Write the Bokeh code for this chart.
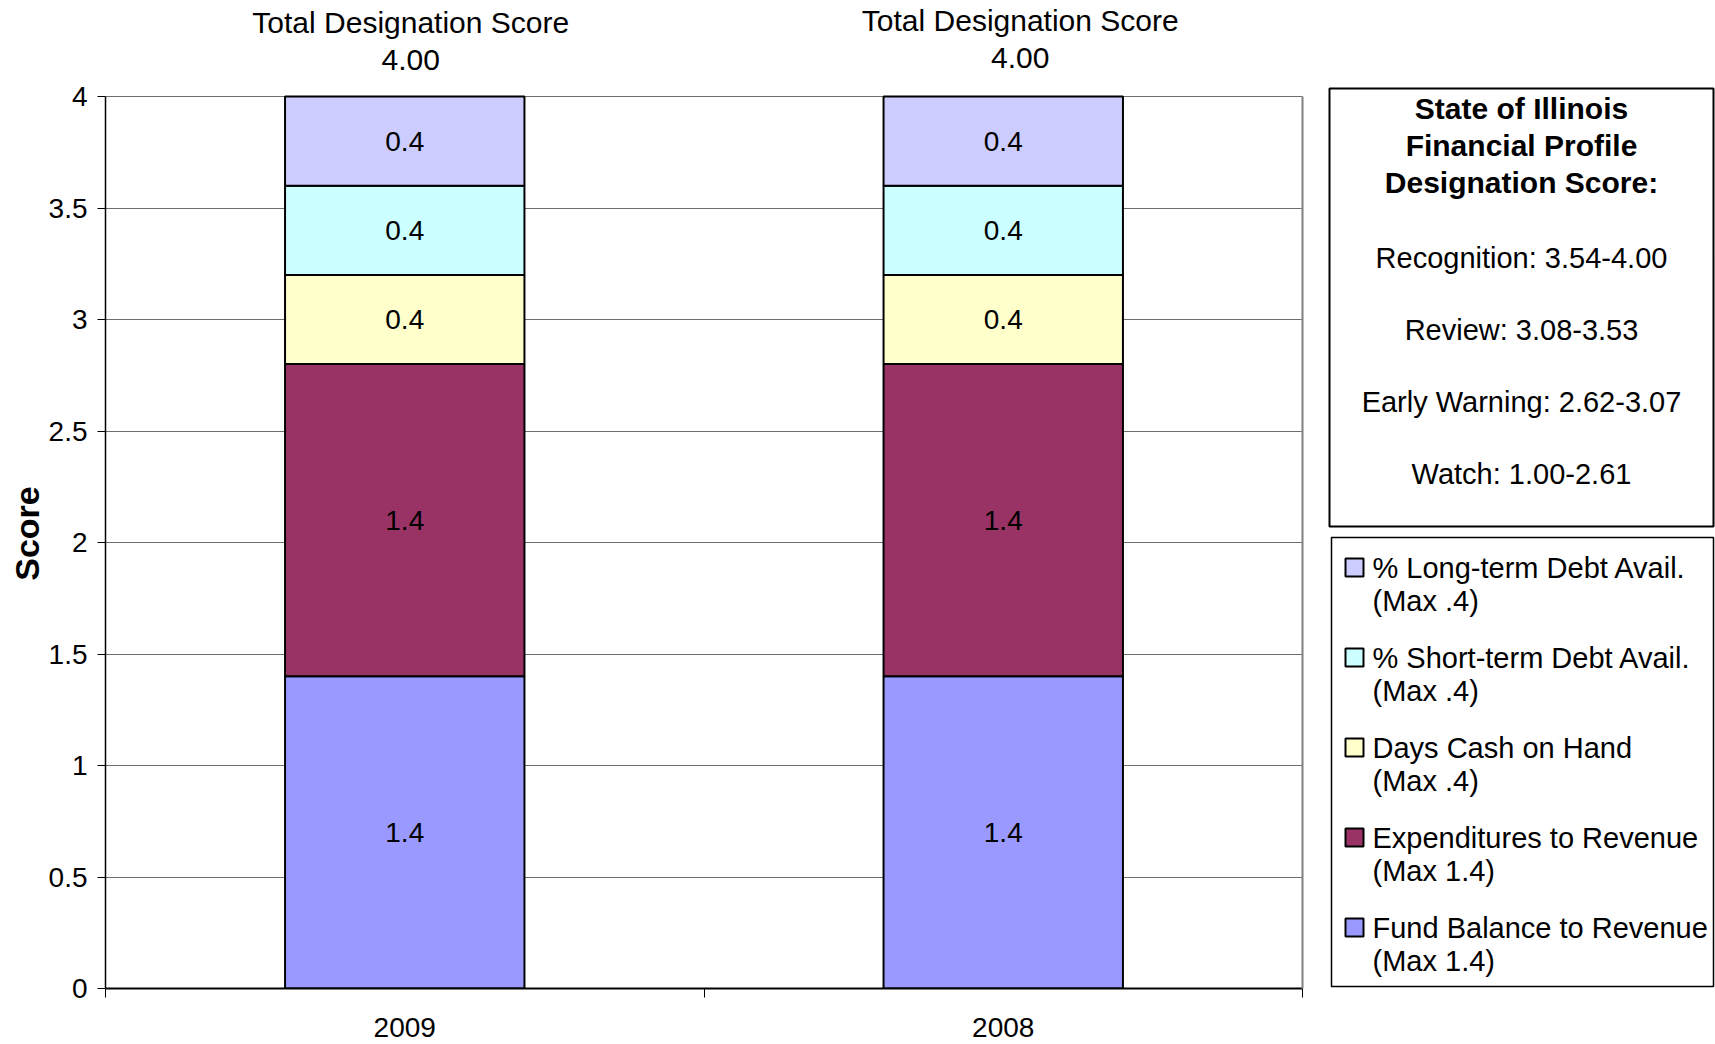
import math
import numpy as np
from bokeh.plotting import figure
from bokeh.layouts import row
from bokeh.models import (ColumnDataSource, Range1d, FactorRange, LinearAxis, CategoricalAxis,
                          FixedTicker, NumeralTickFormatter)
from bokeh.core.properties import value
from bokeh.embed import file_html
from bokeh.resources import INLINE

# ---------------- data ----------------
years = ["2009", "2008"]
fund_balance = [1.4, 1.4]
expenditures = [1.4, 1.4]
days_cash = [0.4, 0.4]
short_term_debt = [0.4, 0.4]
long_term_debt = [0.4, 0.4]

series_keys = ["fund", "exp", "cash", "short", "long"]
series_labels = ["Fund Balance to Revenue\n(Max 1.4)",
                 "Expenditures to Revenue\n(Max 1.4)",
                 "Days Cash on Hand\n(Max .4)",
                 "% Short-term Debt Avail.\n(Max .4)",
                 "% Long-term Debt Avail.\n(Max .4)"]
colors = ["#9999FF", "#993366", "#FFFFCC", "#CCFFFF", "#CCCCFF"]
y_ticks = [0, 0.5, 1, 1.5, 2, 2.5, 3, 3.5, 4]
y_max = 4
y_title = "Score"
total_title = "Total Designation Score"
info_title = ["State of Illinois", "Financial Profile", "Designation Score:"]
info_lines = ["Recognition: 3.54-4.00", "Review: 3.08-3.53",
              "Early Warning: 2.62-3.07", "Watch: 1.00-2.61"]

FONT = "Liberation Sans"

vals = np.array([fund_balance, expenditures, days_cash, short_term_debt, long_term_debt])
cum = np.cumsum(vals, axis=0)
mids = cum - vals / 2.0
totals = cum[-1]

# ---------------- layout geometry (page pixels) ----------------
H = 1044
W0, W1, W2 = 44, 1282, 389          # y-title strip, chart, side panel
plot_left, plot_right, plot_top, plot_bottom = 105, 1302, 96, 988
px_per_unit = (plot_bottom - plot_top) / y_max
y_end = y_max + plot_top / px_per_unit      # head-room above 4 for the totals
BOT = H - plot_bottom                       # common bottom border of all frames


def bare_figure(w, xr, yr):
    f = figure(x_range=xr, y_range=yr, width=w, height=H, output_backend="svg",
               toolbar_location=None, x_axis_location=None, y_axis_location=None,
               min_border_left=0, min_border_right=0, min_border_top=0, min_border_bottom=BOT)
    f.outline_line_color = None
    f.background_fill_color = "white"
    f.border_fill_color = "white"
    for g in f.grid:
        g.visible = False
    return f


# ---------------- y-axis title strip ----------------
t = bare_figure(W0, Range1d(0, W0), Range1d(BOT, H))
t.text(x=[26], y=[H - 533], text=[y_title], angle=math.pi / 2, text_align="center",
       text_baseline="middle", text_font=value(FONT), text_font_size="34px",
       text_font_style="bold", text_color="black")

# ---------------- main chart ----------------
p = figure(x_range=FactorRange(*years), y_range=Range1d(0, y_end), width=W1, height=H,
           output_backend="svg", toolbar_location=None,
           x_axis_location=None, y_axis_location="left",
           min_border_left=plot_left - W0, min_border_right=W0 + W1 - plot_right,
           min_border_top=0, min_border_bottom=BOT)
p.background_fill_color = "white"
p.border_fill_color = "white"
p.outline_line_color = None

ya = p.yaxis[0]
ya.bounds = (0, y_max)
ya.ticker = FixedTicker(ticks=y_ticks)
ya.formatter = NumeralTickFormatter(format="0.[0]")
ya.minor_tick_line_color = None
ya.major_tick_out = 8
ya.major_tick_in = 0
ya.major_tick_line_color = "black"
ya.axis_line_color = "black"
ya.axis_line_width = 1.5
ya.major_label_text_font = FONT
ya.major_label_text_font_size = "28px"
ya.major_label_text_color = "black"
ya.major_label_standoff = 10

p.ygrid.ticker = FixedTicker(ticks=y_ticks)
p.ygrid.grid_line_color = "#6e6e6e"
p.ygrid.grid_line_width = 1.2
for g in p.xgrid:
    g.visible = False

right_axis = LinearAxis(bounds=(0, y_max), ticker=FixedTicker(ticks=[]),
                        axis_line_color="#808080", axis_line_width=2,
                        major_tick_line_color=None, minor_tick_line_color=None,
                        major_label_text_font_size="0px", major_label_standoff=0)
p.add_layout(right_axis, "right")

edges = list(range(len(years) + 1))
tick_axis = LinearAxis(ticker=FixedTicker(ticks=edges),
                       major_tick_out=9, major_tick_in=0, minor_tick_line_color=None,
                       major_tick_line_color="black", axis_line_color="black", axis_line_width=2,
                       major_label_text_font_size="0px", major_label_text_alpha=0,
                       major_label_standoff=0)
p.add_layout(tick_axis, "below")
cat_axis = CategoricalAxis(axis_line_color=None, major_tick_line_color=None,
                           major_tick_out=0, major_tick_in=0,
                           major_label_text_font=FONT, major_label_text_font_size="28px",
                           major_label_text_color="black", major_label_standoff=20)
p.add_layout(cat_axis, "below")

src = ColumnDataSource(dict(years=years, fund=fund_balance, exp=expenditures,
                            cash=days_cash, short=short_term_debt, long=long_term_debt))
rs = p.vbar_stack(series_keys, x="years", width=0.4, source=src,
                  fill_color=colors, line_color="black", line_width=2)

lx, ly, lt = [], [], []
for k in range(len(series_keys)):
    for i, yr in enumerate(years):
        lx.append(yr)
        ly.append(mids[k, i])
        lt.append(f"{vals[k, i]:g}")
p.text(x="x", y="y", text="t", source=ColumnDataSource(dict(x=lx, y=ly, t=lt)),
       text_align="center", text_baseline="middle", text_font=value(FONT),
       text_font_size="28px", text_color="black")

tsrc = ColumnDataSource(dict(x=years, y=list(totals), title=[total_title] * len(years),
                             tot=[f"{v:.2f}" for v in totals],
                             xo=[6, 17], yo1=[-74, -76], yo2=[-37, -39]))
p.text(x="x", y="y", text="title", x_offset="xo", y_offset="yo1", source=tsrc,
       text_align="center", text_baseline="middle", text_font=value(FONT),
       text_font_size="30px", text_color="black")
p.text(x="x", y="y", text="tot", x_offset="xo", y_offset="yo2", source=tsrc,
       text_align="center", text_baseline="middle", text_font=value(FONT),
       text_font_size="30px", text_color="black")

# ---------------- side panel: info box + legend ----------------
s = bare_figure(W2, Range1d(0, W2), Range1d(BOT, H))
box_l, box_r, box_t, box_b = 3, 387, H - 88, H - 526
s.quad(left=[box_l], right=[box_r], top=[box_t], bottom=[box_b],
       fill_color="white", line_color="black", line_width=2)
cx = (box_l + box_r) / 2
head_y = [H - 108 - 37 * j for j in range(len(info_title))]
s.text(x=[cx] * len(info_title), y=head_y, text=info_title, text_align="center",
       text_baseline="middle", text_font=value(FONT), text_font_size="30px",
       text_font_style="bold", text_color="black")
line_y = [H - 257 - 72 * j for j in range(len(info_lines))]
s.text(x=[cx] * len(info_lines), y=line_y, text=info_lines, text_align="center",
       text_baseline="middle", text_font=value(FONT), text_font_size="29px",
       text_color="black")

# legend box (drawn explicitly so the swatch sits on the first label line)
s.quad(left=[5], right=[387], top=[H - 537], bottom=[H - 986],
       fill_color="white", line_color="black", line_width=1.5)
order = list(reversed(range(len(series_labels))))       # top entry = last stacked series
sw_l, sw_r, txt_x = 19, 37, 46
first_y = [H - (567 + 90 * n) for n in range(len(order))]
s.quad(left=[sw_l] * len(order), right=[sw_r] * len(order),
       top=[y + 9 for y in first_y], bottom=[y - 9 for y in first_y],
       fill_color=[colors[k] for k in order], line_color="black", line_width=2)
leg_x, leg_y, leg_t = [], [], []
for n, k in enumerate(order):
    for j, part in enumerate(series_labels[k].split("\n")):
        leg_x.append(txt_x)
        leg_y.append(first_y[n] - 33 * j)
        leg_t.append(part)
s.text(x=leg_x, y=leg_y, text=leg_t, text_align="left", text_baseline="middle",
       text_font=value(FONT), text_font_size="29px", text_color="black")

layout = row(t, p, s, spacing=0)
open("out.html", "w").write(file_html(layout, INLINE))
